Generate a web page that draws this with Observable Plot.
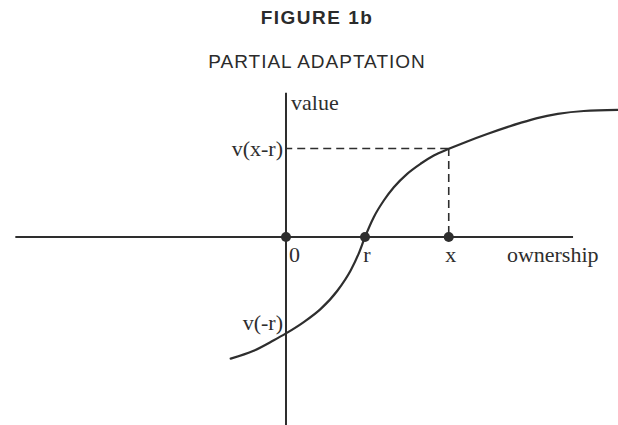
<!DOCTYPE html>
<html><head><meta charset="utf-8">
<script src="https://cdn.jsdelivr.net/npm/d3@7"></script>
<script src="https://cdn.jsdelivr.net/npm/@observablehq/plot@0.6"></script>
<style>
body{margin:0;background:#fff;}
#wrap{position:relative;width:618px;height:425px;overflow:hidden;background:#fff;}
#head{position:relative;height:80px;}
.t{position:absolute;left:8px;width:618px;text-align:center;color:#2b2b2b;line-height:22px;white-space:nowrap;}
.t1{top:7px;font:bold 19px "Liberation Sans",Arial,sans-serif;letter-spacing:1.5px;}
.t2{top:51px;font:19px "Liberation Sans",Arial,sans-serif;letter-spacing:1px;}
</style></head>
<body><div id="wrap"><div id="head"><div class="t t1">FIGURE 1b</div><div class="t t2">PARTIAL ADAPTATION</div></div><div id="chart"></div></div>
<script>
// value function curve (ownership units, value units)
const curveX = [-0.70,-0.41,-0.16,0.00,0.22,0.44,0.65,0.82,0.92,1.00,1.111,1.238,1.365,1.534,1.703,1.871,2.061,2.294,2.547,2.800,2.968,3.18,3.44,3.77,4.20];
const curveY = [-1.54,-1.44,-1.31,-1.22,-1.08,-0.91,-0.68,-0.42,-0.21,0.00,0.251,0.462,0.630,0.800,0.927,1.032,1.116,1.210,1.304,1.391,1.444,1.505,1.558,1.595,1.608];
const pointLabels = ["0","r","x"];
const pointX = [0, 1, 2.06];
const vXminusR = 1.12;   // v(x-r)
const vMinusR = -1.22;   // v(-r)
const xAxisExtent = [-3.42, 3.64];
const yAxisExtent = [-2.39, 1.82];
const xDomain = [-3.614, 4.209];
const yDomain = [-2.386, 1.981];

const ink = "#2e2e2e";
const serif = "'Liberation Serif','Times New Roman',serif";
const fs = 22;
const curve = curveX.map((x,i)=>({x, y: curveY[i]}));
const pts = pointX.map((x,i)=>({x, y:0, label: pointLabels[i]}));

const chart = Plot.plot({
  width: 618, height: 345, margin: 0,
  style: {background: "transparent", overflow: "visible"},
  x: {domain: xDomain, axis: null},
  y: {domain: yDomain, axis: null},
  marks: [
    Plot.ruleY([0], {x1: xAxisExtent[0], x2: xAxisExtent[1], stroke: ink, strokeWidth: 2}),
    Plot.ruleX([0], {y1: yAxisExtent[0], y2: yAxisExtent[1], stroke: ink, strokeWidth: 2}),
    Plot.ruleY([vXminusR], {x1: pointX[2], x2: 0, stroke: ink, strokeWidth: 1.6, strokeDasharray: "8,5"}),
    Plot.ruleX([pointX[2]], {y1: vXminusR, y2: 0, stroke: ink, strokeWidth: 1.6, strokeDasharray: "8,5"}),
    Plot.line(curve, {x: "x", y: "y", curve: "monotone-x", stroke: ink, strokeWidth: 2.2}),
    Plot.dot(pts, {x: "x", y: "y", r: 5, fill: ink, stroke: "none"}),
    Plot.text(pts.slice(0,1), {x: "x", y: "y", text: "label", textAnchor: "start", dx: 3, dy: 18, lineAnchor: "middle", fontFamily: serif, fontSize: fs, fill: ink}),
    Plot.text(pts.slice(1), {x: "x", y: "y", text: "label", textAnchor: "middle", dx: 2, dy: 18, lineAnchor: "middle", fontFamily: serif, fontSize: fs, fill: ink}),
    Plot.text(["ownership"], {x: xAxisExtent[1], y: 0, text: d => d, textAnchor: "end", dx: 25, dy: 18, lineAnchor: "middle", fontFamily: serif, fontSize: fs, fill: ink}),
    Plot.text(["value"], {x: 0, y: yAxisExtent[1], text: d => d, textAnchor: "start", dx: 5, dy: 17, lineAnchor: "bottom", fontFamily: serif, fontSize: fs, fill: ink}),
    Plot.text(["v(x-r)"], {x: 0, y: vXminusR, text: d => d, textAnchor: "end", dx: -3, lineAnchor: "middle", fontFamily: serif, fontSize: fs, fill: ink}),
    Plot.text(["v(-r)"], {x: 0, y: vMinusR, text: d => d, textAnchor: "end", dx: -3, dy: -10, lineAnchor: "middle", fontFamily: serif, fontSize: fs, fill: ink})
  ]
});
document.getElementById("chart").appendChild(chart);
</script></body></html>
